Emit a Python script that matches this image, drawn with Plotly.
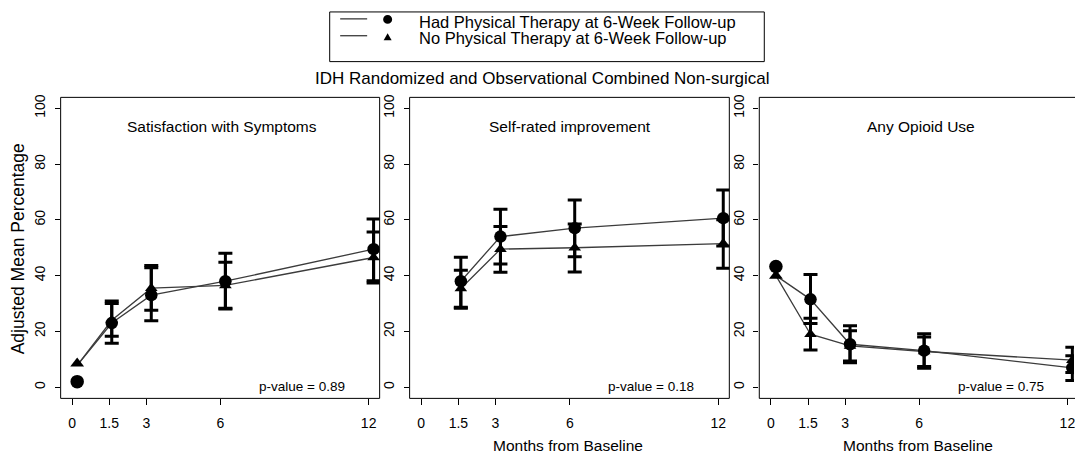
import plotly.graph_objects as go

# ---------------- data ----------------
month_ticks = [0, 1.5, 3, 6, 12]
point_months = [0.2, 1.6, 3.2, 6.2, 12.2]   # plotted (slightly jittered) month positions

panel_titles = ["Satisfaction with Symptoms", "Self-rated improvement", "Any Opioid Use"]
p_values = ["p-value = 0.89", "p-value = 0.18", "p-value = 0.75"]

group_labels = ["Had Physical Therapy at 6-Week Follow-up",
                "No Physical Therapy at 6-Week Follow-up"]

# Satisfaction with Symptoms
pt_sat = [2.0, 23.0, 33.0, 38.0, 49.5]
pt_sat_lo = [None, 15.8, 23.8, 28.0, 38.2]
pt_sat_hi = [None, 30.9, 42.8, 48.0, 60.3]
no_sat = [8.5, 24.0, 35.5, 36.5, 46.5]
no_sat_lo = [None, 18.3, 27.6, 28.3, 37.4]
no_sat_hi = [None, 30.0, 43.6, 44.8, 55.6]

# Self-rated improvement
pt_imp = [None, 38.0, 54.0, 57.0, 60.6]
pt_imp_lo = [None, 28.7, 44.2, 46.8, 50.6]
pt_imp_hi = [None, 46.6, 63.8, 67.1, 70.7]
no_imp = [None, 35.4, 49.5, 50.0, 51.5]
no_imp_lo = [None, 28.3, 41.2, 41.3, 42.6]
no_imp_hi = [None, 41.9, 57.6, 58.5, 60.0]

# Any Opioid Use
pt_op = [43.3, 31.5, 15.4, 13.1, 6.9]
pt_op_lo = [None, 22.8, 8.8, 6.8, 2.4]
pt_op_hi = [None, 40.4, 22.0, 19.2, 11.3]
no_op = [40.0, 19.0, 14.8, 12.8, 9.7]
no_op_lo = [None, 13.3, 9.4, 7.4, 5.3]
no_op_hi = [None, 24.7, 20.2, 18.0, 14.3]

# lines start from a common baseline estimate
line_baseline = [7.8, None, 40.0]

panels = [
    (pt_sat, pt_sat_lo, pt_sat_hi, no_sat, no_sat_lo, no_sat_hi),
    (pt_imp, pt_imp_lo, pt_imp_hi, no_imp, no_imp_lo, no_imp_hi),
    (pt_op, pt_op_lo, pt_op_hi, no_op, no_op_lo, no_op_hi),
]

# ---------------- layout helpers ----------------
W, H = 1075, 455
FONT = "Liberation Sans, Arial, sans-serif"


def px(x):
    return x / W


def py(y):
    return 1 - y / H


x_domains = [(px(60.7), px(380)), (px(410), px(730)), (px(760), 1.0)]
x_ranges = [(-0.469, 12.445), (-0.469, 12.445), (-0.473, 12.267)]
y_domain = (py(398), py(95))
y_range = (-4.0, 103.9)

LINE_COLOR = "#3c3c3c"

fig = go.Figure()


def minus(v, lo):
    return [a - b for a, b in zip(v, lo)]


def plus(v, hi):
    return [b - a for a, b in zip(v, hi)]


for i, (pv, plo, phi, nv, nlo, nhi) in enumerate(panels):
    xa = "x" if i == 0 else f"x{i+1}"
    ya = "y" if i == 0 else f"y{i+1}"
    base = line_baseline[i]
    pt_line = [base] + pv[1:]
    no_line = [base] + nv[1:]
    for ln in (pt_line, no_line):
        fig.add_trace(go.Scatter(
            x=point_months, y=ln, mode="lines", xaxis=xa, yaxis=ya,
            line=dict(color=LINE_COLOR, width=1.3), connectgaps=False,
            showlegend=False, hoverinfo="skip"))
    for v, lo, hi, sym, sz in ((nv, nlo, nhi, "triangle-up", 11),
                               (pv, plo, phi, "circle", 12.5)):
        # follow-up points with confidence intervals
        fig.add_trace(go.Scatter(
            x=point_months[1:], y=v[1:], mode="markers", xaxis=xa, yaxis=ya,
            marker=dict(symbol=sym, size=sz, color="black", line=dict(width=0)),
            error_y=dict(type="data", symmetric=False,
                         array=plus(v[1:], hi[1:]), arrayminus=minus(v[1:], lo[1:]),
                         color="black", thickness=3, width=7),
            showlegend=False))
        # baseline point (no interval)
        if v[0] is not None:
            fig.add_trace(go.Scatter(
                x=point_months[:1], y=v[:1], mode="markers", xaxis=xa, yaxis=ya,
                marker=dict(symbol=sym, size=sz + 1, color="black", line=dict(width=0)),
                showlegend=False))

axis_font = dict(family=FONT, size=14, color="black")
layout = dict(
    width=W, height=H,
    margin=dict(l=0, r=0, t=0, b=0),
    paper_bgcolor="white", plot_bgcolor="white",
    showlegend=False,
    font=dict(family=FONT, color="black"),
)
for i in range(3):
    sfx = "" if i == 0 else str(i + 1)
    layout["xaxis" + sfx] = dict(
        domain=list(x_domains[i]), range=list(x_ranges[i]),
        anchor="y" + sfx, tickmode="array", tickvals=month_ticks,
        ticktext=["0", "1.5", "3", "6", "12"],
        ticks="outside", ticklen=6, tickwidth=1, tickcolor="black",
        showgrid=False, zeroline=False, showline=False,
        tickfont=axis_font, ticklabelstandoff=6, ticklabeloverflow="allow")
    layout["yaxis" + sfx] = dict(
        domain=list(y_domain), range=list(y_range),
        anchor="x" + sfx, tickmode="array", tickvals=[0, 20, 40, 60, 80, 100],
        ticks="outside", ticklen=5, tickwidth=1, tickcolor="black",
        showgrid=False, zeroline=False, showline=False,
        tickangle=-90, tickfont=axis_font, ticklabelstandoff=4)

fig.update_layout(**layout)

shapes = []
for i in range(3):
    x0, x1 = x_domains[i]
    if i == 2:
        x1 = px(1080)
    shapes.append(dict(type="rect", xref="paper", yref="paper",
                       x0=x0, x1=x1, y0=y_domain[0], y1=y_domain[1],
                       line=dict(color="black", width=1), fillcolor="rgba(0,0,0,0)",
                       layer="above"))
# legend box and glyphs
shapes.append(dict(type="rect", xref="paper", yref="paper",
                   x0=px(330), x1=px(765), y0=py(59), y1=py(9),
                   line=dict(color="black", width=1)))
for yy in (16, 33):
    shapes.append(dict(type="line", xref="paper", yref="paper",
                       x0=px(340.5), x1=px(367.5), y0=py(yy), y1=py(yy),
                       line=dict(color="black", width=1)))
shapes.append(dict(type="circle", xref="paper", yref="paper",
                   x0=px(383.5), x1=px(392.5), y0=py(21), y1=py(12),
                   fillcolor="black", line=dict(width=0)))
tri = "M {:.5f} {:.5f} L {:.5f} {:.5f} L {:.5f} {:.5f} Z".format(
    px(384), py(37.5), px(392), py(37.5), px(388), py(30.5))
shapes.append(dict(type="path", xref="paper", yref="paper", path=tri,
                   fillcolor="black", line=dict(width=0)))
fig.update_layout(shapes=shapes)

ann = []
title_cx = [222, 571, 922]
for i in range(3):
    ann.append(dict(text=panel_titles[i], xref="paper", yref="paper",
                    x=px(title_cx[i]), y=py(124),
                    showarrow=False, font=dict(family=FONT, size=15.5),
                    xanchor="center", yanchor="middle"))
    ann.append(dict(text=p_values[i], xref="paper", yref="paper",
                    x=px([347, 697, 1047][i]), y=py(386), showarrow=False,
                    font=dict(family=FONT, size=13.5), xanchor="right",
                    yanchor="middle"))

ann.append(dict(text="Adjusted Mean Percentage", xref="paper", yref="paper",
                x=px(18), y=py(247), textangle=-90, showarrow=False,
                font=dict(family=FONT, size=17.5), xanchor="center", yanchor="middle"))
for cx in (569, 919):
    ann.append(dict(text="Months from Baseline", xref="paper", yref="paper",
                    x=px(cx), y=py(445), showarrow=False,
                    font=dict(family=FONT, size=15.5), xanchor="center",
                    yanchor="middle"))
ann.append(dict(text="IDH Randomized and Observational Combined Non-surgical",
                xref="paper", yref="paper", x=px(543), y=py(76), showarrow=False,
                font=dict(family=FONT, size=17), xanchor="center", yanchor="middle"))
for txt, yy in zip(group_labels, (19, 35)):
    ann.append(dict(text=txt, xref="paper", yref="paper", x=px(417), y=py(yy),
                    showarrow=False, font=dict(family=FONT, size=16.5),
                    xanchor="left", yanchor="middle"))
fig.update_layout(annotations=ann)

fig.write_html("out.html", config={"displayModeBar": False},
               post_script="document.body.style.margin='0';")
